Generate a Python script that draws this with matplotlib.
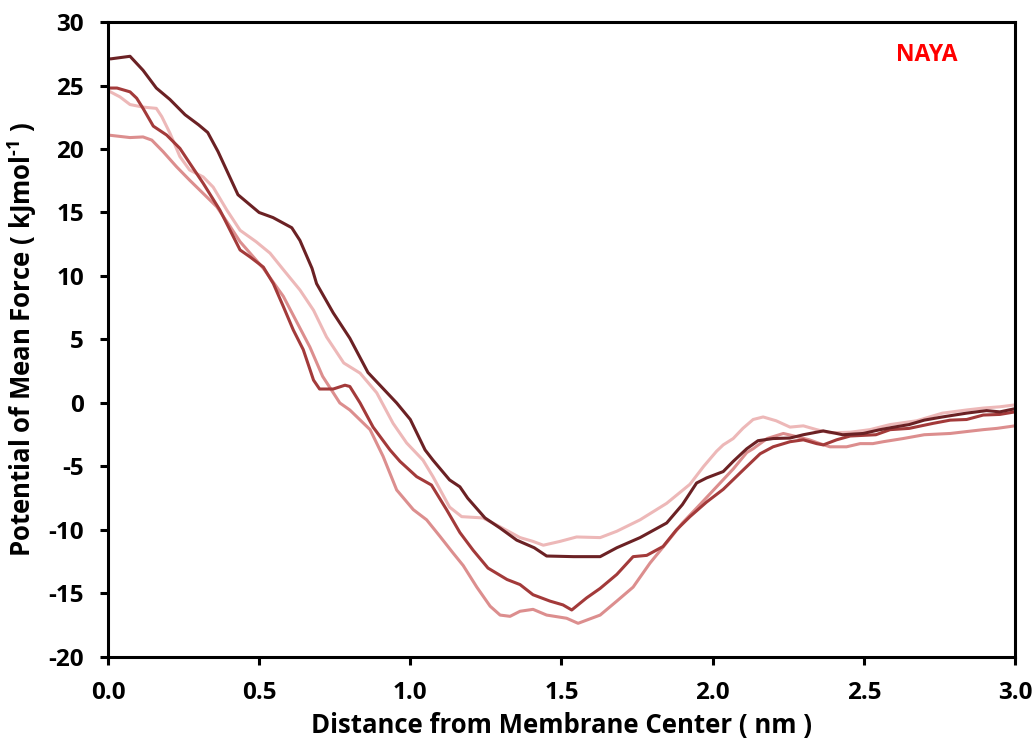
import matplotlib
matplotlib.use("Agg")
import matplotlib.pyplot as plt

# Series: dark
x_dark = [0.0, 0.01, 0.073, 0.116, 0.16, 0.205, 0.255, 0.30, 0.33, 0.364, 0.397, 0.43, 0.46, 0.50, 0.546, 0.608, 0.635,
          0.675, 0.69, 0.745, 0.80, 0.86, 0.955, 1.0, 1.049, 1.075, 1.13, 1.164, 1.19, 1.247, 1.297, 1.352, 1.41, 1.451,
          1.54, 1.628, 1.683, 1.76, 1.848, 1.90, 1.947, 1.98, 2.035, 2.068, 2.113, 2.15, 2.2, 2.256, 2.3, 2.366, 2.41,
          2.43, 2.498, 2.554, 2.6, 2.65, 2.70, 2.76, 2.84, 2.906, 2.95, 3.0]
y_dark = [27.1, 27.1, 27.3, 26.2, 24.8, 23.9, 22.7, 21.9, 21.3, 19.8, 18.1, 16.4, 15.8, 15.0, 14.6, 13.8, 12.8,
          10.6, 9.4, 7.1, 5.1, 2.4, 0.0, -1.3, -3.7, -4.5, -6.06, -6.6, -7.5, -9.05, -9.85, -10.8, -11.4, -12.05,
          -12.1, -12.1, -11.4, -10.6, -9.45, -8.0, -6.3, -5.9, -5.4, -4.6, -3.6, -2.97, -2.8, -2.76, -2.5, -2.2, -2.4,
          -2.5, -2.4, -2.1, -1.9, -1.7, -1.35, -1.1, -0.8, -0.6, -0.7, -0.45]

# Series: medium red
x_med = [0.0, 0.03, 0.073, 0.095, 0.116, 0.15, 0.194, 0.238, 0.27, 0.315, 0.37, 0.437, 0.47, 0.514, 0.547, 0.58, 0.613,
         0.646, 0.68, 0.70, 0.745, 0.784, 0.80, 0.834, 0.877, 0.933, 0.966, 1.021, 1.07, 1.12, 1.164, 1.208, 1.257,
         1.32, 1.363, 1.406, 1.462, 1.505, 1.534, 1.583, 1.628, 1.683, 1.737, 1.782, 1.836, 1.88, 1.925, 1.98, 2.035,
         2.1, 2.157, 2.2, 2.256, 2.3, 2.344, 2.366, 2.41, 2.455, 2.54, 2.587, 2.65, 2.73, 2.786, 2.84, 2.895, 2.95, 3.0]
y_med = [24.8, 24.8, 24.5, 24.0, 23.2, 21.8, 21.1, 20.05, 18.9, 17.3, 15.2, 12.05, 11.5, 10.7, 9.4, 7.6, 5.75,
         4.2, 1.8, 1.1, 1.1, 1.4, 1.3, 0.0, -1.9, -3.7, -4.6, -5.8, -6.46, -8.4, -10.2, -11.6, -13.0,
         -13.9, -14.3, -15.1, -15.6, -15.9, -16.3, -15.35, -14.6, -13.5, -12.1, -12.0, -11.3, -10.0, -8.95, -7.8, -6.8,
         -5.3, -4.0, -3.45, -3.05, -2.9, -3.2, -3.3, -2.9, -2.6, -2.5, -2.1, -2.0, -1.6, -1.35, -1.3, -0.95, -0.9, -0.7]

# Series: light pink
x_light = [0.0, 0.04, 0.073, 0.116, 0.16, 0.178, 0.205, 0.238, 0.27, 0.315, 0.348, 0.393, 0.437, 0.49, 0.536, 0.58,
           0.635, 0.68, 0.723, 0.78, 0.834, 0.889, 0.943, 0.988, 1.042, 1.075, 1.13, 1.17, 1.24, 1.297, 1.363, 1.406,
           1.44, 1.495, 1.55, 1.628, 1.683, 1.76, 1.848, 1.925, 1.97, 2.013, 2.035, 2.068, 2.1, 2.134, 2.167, 2.21,
           2.256, 2.3, 2.344, 2.388, 2.455, 2.52, 2.587, 2.675, 2.76, 2.84, 2.895, 2.95, 3.0]
y_light = [24.6, 24.1, 23.5, 23.3, 23.2, 22.55, 21.25, 19.4, 18.35, 17.8, 17.0, 15.2, 13.6, 12.7, 11.8, 10.5,
           8.9, 7.3, 5.2, 3.15, 2.35, 0.8, -1.6, -3.15, -4.5, -5.8, -8.2, -8.95, -9.05, -9.75, -10.6, -10.9,
           -11.2, -10.9, -10.55, -10.6, -10.1, -9.2, -7.9, -6.4, -5.0, -3.8, -3.3, -2.8, -2.0, -1.3, -1.1, -1.4,
           -1.9, -1.8, -2.1, -2.35, -2.3, -2.1, -1.7, -1.4, -0.8, -0.55, -0.4, -0.3, -0.15]

# Series: pink
x_pink = [0.0, 0.073, 0.116, 0.145, 0.182, 0.227, 0.27, 0.315, 0.36, 0.404, 0.437, 0.47, 0.514, 0.58, 0.668, 0.71,
          0.767, 0.80, 0.867, 0.91, 0.955, 1.01, 1.054, 1.098, 1.141, 1.175, 1.22, 1.264, 1.297, 1.33, 1.363, 1.406,
          1.451, 1.517, 1.555, 1.628, 1.683, 1.737, 1.793, 1.848, 1.90, 1.958, 2.013, 2.068, 2.113, 2.134, 2.18,
          2.234, 2.278, 2.32, 2.355, 2.388, 2.443, 2.488, 2.53, 2.564, 2.63, 2.70, 2.786, 2.84, 2.895, 2.94, 3.0]
y_pink = [21.1, 20.9, 20.95, 20.7, 19.8, 18.6, 17.55, 16.5, 15.45, 13.9, 12.7, 11.8, 10.6, 8.4, 4.4, 2.1,
          0.0, -0.55, -2.1, -4.2, -6.85, -8.4, -9.2, -10.5, -11.8, -12.8, -14.5, -16.0, -16.7, -16.8, -16.4, -16.25,
          -16.7, -16.95, -17.35, -16.7, -15.6, -14.5, -12.6, -11.0, -9.45, -8.0, -6.6, -5.2, -3.9, -3.6, -2.8,
          -2.4, -2.65, -2.9, -3.2, -3.45, -3.45, -3.2, -3.2, -3.05, -2.8, -2.5, -2.4, -2.25, -2.1, -2.0, -1.8]

x_ticks = [0.0, 0.5, 1.0, 1.5, 2.0, 2.5, 3.0]
y_ticks = [-20, -15, -10, -5, 0, 5, 10, 15, 20, 25, 30]

plt.rcParams['font.family'] = ['Open Sans', 'DejaVu Sans']
plt.rcParams['mathtext.fontset'] = 'custom'
plt.rcParams['mathtext.rm'] = 'Open Sans:bold'
plt.rcParams['mathtext.bf'] = 'Open Sans:bold'

fig = plt.figure(figsize=(10.36, 7.51), dpi=100)
ax = fig.add_axes([0.1042, 0.1252, 0.8755, 0.8455])

lw = 2.2
ax.plot(x_light, y_light, color='#EDB8B8', lw=lw)
ax.plot(x_pink, y_pink, color='#DC8E8E', lw=lw)
ax.plot(x_med, y_med, color='#A33A3A', lw=lw)
ax.plot(x_dark, y_dark, color='#6B2124', lw=lw)

ax.set_xlim(0, 3.0)
ax.set_ylim(-20, 30)
ax.set_xticks(x_ticks)
ax.set_xticklabels([f"{v:.1f}" for v in x_ticks])
ax.set_yticks(y_ticks)
ax.set_yticklabels([str(v) for v in y_ticks])

for s in ax.spines.values():
    s.set_linewidth(2.2)
    s.set_color('black')
ax.tick_params(direction='out', length=5.8, width=2.2, labelsize=17.5, pad=11.5)
for lab in ax.get_xticklabels() + ax.get_yticklabels():
    lab.set_fontweight('bold')

ax.set_xlabel('Distance from Membrane Center ( nm )', fontsize=18.5, fontweight='bold', labelpad=5)
ax.set_ylabel('Potential of Mean Force ( kJmol$^{\\text{-1}}$ )', fontsize=18.5, fontweight='bold', labelpad=7)

ax.text(2.708, 27.4, 'NAYA', color='#FF0000', fontsize=16.5, fontweight='bold', ha='center', va='center')

fig.savefig('out.png', dpi=100)
